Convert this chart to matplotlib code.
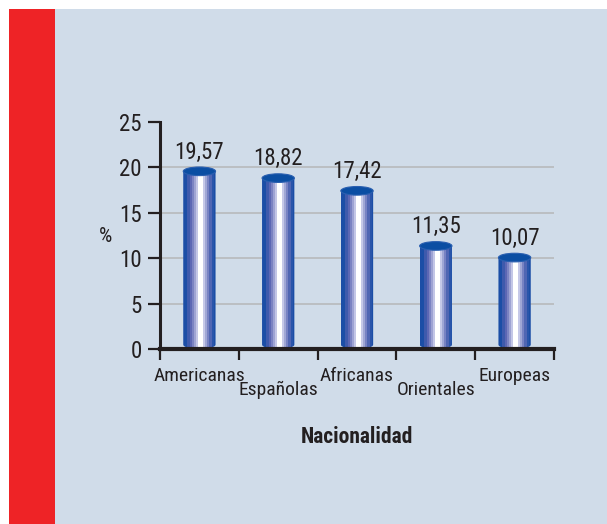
import numpy as np
import matplotlib
matplotlib.use("Agg")
import matplotlib.pyplot as plt
from matplotlib.patches import Rectangle, Ellipse, PathPatch
from matplotlib.path import Path
from matplotlib.colors import ListedColormap
from matplotlib.transforms import offset_copy, blended_transform_factory

categorias = ["Americanas", "Españolas", "Africanas", "Orientales", "Europeas"]
porcentajes = [19.57, 18.82, 17.42, 11.35, 10.07]
etiquetas = ["19,57", "18,82", "17,42", "11,35", "10,07"]
yticks = [0, 5, 10, 15, 20, 25]

plt.rcParams["font.family"] = ["Roboto Condensed", "DejaVu Sans"]
tinta = "#231f20"

fig = plt.figure(figsize=(6.07, 5.24), dpi=100, facecolor="white")
W, H = 607, 524
fig.patches.append(Rectangle((9 / W, 0), 46 / W, 515 / H, transform=fig.transFigure,
                             facecolor="#ee2326", edgecolor="none", zorder=-10))
fig.patches.append(Rectangle((55 / W, 0), 552 / W, 515 / H, transform=fig.transFigure,
                             facecolor="#d0dce9", edgecolor="none", zorder=-10))

ax = fig.add_axes([160 / W, (H - 349) / H, 394 / W, 227 / H])
ax.set_facecolor("none")
ax.set_xlim(-0.5, 4.5)
ax.set_ylim(0, 25)

# stripes of the cylinder shading, left to right
bandas = ["#1b4ea6", "#1b4ea6", "#3e5aac", "#5c67b4", "#7b83c2", "#9ea3d3",
          "#c3c6e6", "#ffffff", "#ffffff", "#c6c9e8", "#a0a7d5", "#7883c3",
          "#5066b3", "#2a55aa", "#1b4ea6"]
cmap = ListedColormap(bandas)
grad = np.arange(len(bandas))[None, :]

ancho = 0.41
eh = 0.95  # ellipse height in data units
for i, v in enumerate(porcentajes):
    x0, x1 = i - ancho / 2, i + ancho / 2
    # outline: rounded bottom, straight sides up to the value
    t = np.linspace(np.pi, 2 * np.pi, 30)
    bx = i + ancho / 2 * np.cos(t)
    by = eh / 2 + eh / 2 * np.sin(t)
    verts = list(zip(bx, by)) + [(x1, v), (x0, v), (bx[0], by[0])]
    codes = [Path.MOVETO] + [Path.LINETO] * (len(verts) - 2) + [Path.CLOSEPOLY]
    clip = PathPatch(Path(verts, codes), transform=ax.transData, facecolor="none",
                     edgecolor="none")
    ax.add_patch(clip)
    im = ax.imshow(grad, cmap=cmap, aspect="auto", interpolation="nearest",
                   extent=(x0, x1, 0, v), zorder=2, vmin=-0.5, vmax=len(bandas) - 0.5)
    im.set_clip_path(clip)
    ax.add_patch(Ellipse((i, v), ancho, eh, facecolor="#0b4ea3", edgecolor="#2a5fb0",
                         linewidth=0.8, zorder=3))
    ax.text(i, v + eh / 2, etiquetas[i], ha="center", va="bottom", fontsize=16.5,
            color=tinta,
            transform=offset_copy(ax.transData, fig=fig, y=2.5, units="points"))

for y in yticks[1:-1]:
    ax.axhline(y, color="#b9bcc0", linewidth=1.3, zorder=1)

for s in ["top", "right"]:
    ax.spines[s].set_visible(False)
ax.spines["left"].set_linewidth(2.2)
ax.spines["bottom"].set_linewidth(3)
ax.spines["bottom"].set_zorder(4)
ax.spines["left"].set_color(tinta)
ax.spines["bottom"].set_color(tinta)

ax.set_yticks(yticks)
ax.set_yticklabels([str(y) for y in yticks], fontsize=16.5, color=tinta)
ax.tick_params(axis="y", direction="out", length=9, width=1.6, pad=4, color=tinta)

ax.set_xticks(np.arange(-0.5, 5, 1))
ax.set_xticklabels([])
ax.tick_params(axis="x", direction="out", length=8, width=1.6, color=tinta)

trans = blended_transform_factory(ax.transData, ax.transAxes)
for i, c in enumerate(categorias):
    dy = -13 if i % 2 == 0 else -23
    ax.text(i, 0, c, ha="center", va="top", fontsize=14, color=tinta,
            transform=offset_copy(trans, fig=fig, y=dy, units="points"))

fig.text(357 / W, (H - 437) / H, "Nacionalidad", ha="center", va="center",
         fontsize=15.5, fontweight="bold", color=tinta)
fig.text(105 / W, (H - 237) / H, "%", ha="center", va="center", fontsize=15,
         color=tinta)

fig.savefig("out.png", dpi=100, facecolor="white")
